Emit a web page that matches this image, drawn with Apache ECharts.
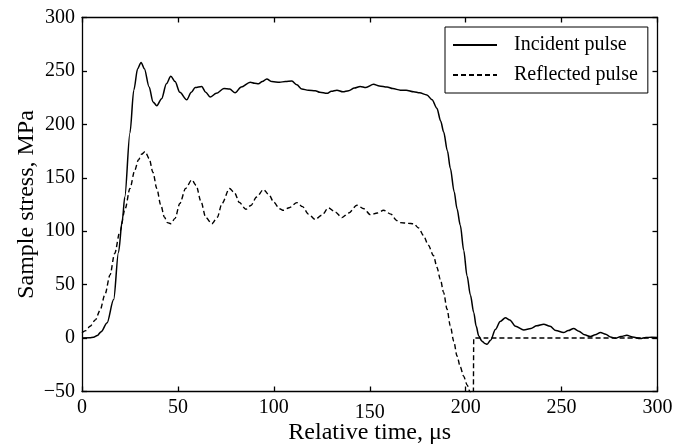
<!DOCTYPE html>
<html>
<head>
<meta charset="utf-8">
<script src="https://cdn.jsdelivr.net/npm/echarts@6/dist/echarts.min.js"></script>
<style>html,body{margin:0;padding:0;background:#fff;}#c{width:674px;height:447px;}</style>
</head>
<body>
<div id="c"></div>
<script>
const seriesNames = ['Incident pulse', 'Reflected pulse'];
const xTicks = [0, 50, 100, 150, 200, 250, 300];
const yTicks = [-50, 0, 50, 100, 150, 200, 250, 300];

const incidentT = [0,4,6,8,10,13,16.5,19,21,22.3,25,27,29,30.8,32.5,35,37,39,41.5,44,46.3,48.5,51,54.6,57,59,62.4,64.5,66.8,70,74,77,79.8,83,87.7,90,92,94,96.3,99,103,106,109.4,112,114.6,118,121.6,124,127.7,130,132.9,136,139,142,145,148,152,155,159,162,166,169,172.9,176,179.8,182.5,185,187,188.5,190.5,192,194,195.5,197.2,199,200.7,202.5,204.2,205.5,206.8,208.5,210,211.2,213,215.5,218,220.7,223,226,230.3,234,237,240.7,244,247,251,253.5,256.3,259,262,265,267.5,270.3,273,275.5,278,281,284,287,291,294,297,300];
const incidentV = [0,0.2,0.8,2.5,6,14,36,80,110,132,192,232,252,258,252,235,221,217.5,224,238,245,240,230,223,230,234.5,235.5,230,225.5,229,233.5,233,229.5,235,239.5,238.5,238,240,242.5,240,239.5,240,240.5,237,233,232,231.5,230,229,231,232,230.5,231.5,234,235.5,234.5,237.5,236,235,233.5,232,232,230.5,229.5,227.5,223,215,203,193,175,159,137,121,105.5,82,58.4,40,24,11,2,-3,-5,-5.8,-2,8,15.5,19,17,11,7.6,9,11.5,13,11,7,5.2,7,9,6.5,3,1.4,3,5.2,3.5,1,-0.2,1.5,2.6,1,-0.5,0.5,0.8,0.5];

const reflectedT = [0,2,4.2,7,9.4,12,14.6,17,19.8,22.5,25,27.5,29.4,31,32.9,35,37,39,41,43,44.5,46.3,48.5,51,54,57.2,59.5,62,64.5,67.7,70.5,73,76.9,79.5,82,85.4,88,91,94.6,97.5,100,103,105,108,112,115,118,121.6,125,128.5,132,135.5,139,143.3,147,150.3,154,157.2,161,164,166,170,172.9,175.5,178,180.5,183.3,185,186.8,188.5,190.3,192,193.8,195.5,197.2,198.9,200.8,202.4,203.2,204,204.2,210,300];
const reflectedV = [5,7,11,17,26,41,59,79,100,121,140,157,166.6,172,174.5,168,155,140,125,113,108,107,112,126,140,148,143,128,113,107,113,126,140,136,127,120.5,124,132,139,134,127,121,119.6,122,126.8,123,116,111,115,121.8,118,112.7,117,124.3,121,115.5,117,119.6,116,110,108,107.5,107,103,96,87,77,66.3,55,42.8,27,11.4,-3,-16.8,-27,-35.6,-44,-51,-56,-56,0,0,0];

const pair = (t, v) => t.map((x, i) => [x, v[i]]);
const FONT = 'Liberation Serif';

const chart = echarts.init(document.getElementById('c'), null, {renderer: 'canvas'});
const axisLine = {show: true, onZero: false, lineStyle: {color: '#000', width: 1.3}};
const tick = {show: true, inside: true, length: 5, lineStyle: {color: '#000', width: 1.3}};
chart.setOption({
  animation: false,
  backgroundColor: '#fff',
  grid: {left: 82, right: 16.5, top: 17.5, bottom: 55.5, containLabel: false, outerBoundsMode: 'none'},
  legend: {
    data: seriesNames,
    orient: 'vertical',
    left: 445, top: 27,
    itemWidth: 44, itemHeight: 14, itemGap: 10,
    padding: [8, 10, 8, 7],
    borderColor: '#000', borderWidth: 1, borderRadius: 0,
    backgroundColor: '#fff',
    itemStyle: {opacity: 0},
    textStyle: {fontFamily: FONT, fontSize: 20, color: '#000', padding: [0, 0, 0, 12]}
  },
  xAxis: [{
    type: 'value', min: 0, max: 300, interval: 50, position: 'bottom',
    name: 'Relative time, μs', nameLocation: 'middle', nameGap: 29, nameMoveOverlap: false,
    nameTextStyle: {fontFamily: FONT, fontSize: 24, color: '#000'},
    axisLine: axisLine, axisTick: tick, splitLine: {show: false},
    axisLabel: {fontFamily: FONT, fontSize: 20, color: '#000', margin: 6,
      formatter: v => (v === 150 ? '{low|150}' : String(v)),
      rich: {low: {fontFamily: FONT, fontSize: 20, color: '#000', padding: [5, 0, 0, 0]}}}
  }, {
    type: 'value', min: 0, max: 300, interval: 50, position: 'top',
    axisLine: axisLine, axisTick: tick, axisLabel: {show: false}, splitLine: {show: false}
  }],
  yAxis: [{
    type: 'value', min: -50, max: 300, interval: 50, position: 'left',
    name: 'Sample stress, MPa', nameLocation: 'middle', nameGap: 43, nameMoveOverlap: false,
    nameTextStyle: {fontFamily: FONT, fontSize: 24, color: '#000'},
    axisLine: axisLine, axisTick: tick, splitLine: {show: false},
    axisLabel: {fontFamily: FONT, fontSize: 20, color: '#000', margin: 7,
      formatter: v => (v < 0 ? '\u2212' + Math.abs(v) : String(v))}
  }, {
    type: 'value', min: -50, max: 300, interval: 50, position: 'right',
    axisLine: axisLine, axisTick: tick, axisLabel: {show: false}, splitLine: {show: false}
  }],
  series: [{
    name: seriesNames[0], type: 'line', data: pair(incidentT, incidentV),
    showSymbol: false, symbol: 'none', smooth: 0.3, smoothMonotone: 'x', clip: true,
    lineStyle: {color: '#000', width: 1.5, type: 'solid'}, itemStyle: {color: '#000'}
  }, {
    name: seriesNames[1], type: 'line', data: pair(reflectedT, reflectedV),
    showSymbol: false, symbol: 'none', smooth: 0.3, smoothMonotone: 'x', clip: true,
    lineStyle: {color: '#000', width: 1.4, type: [5, 3]}, itemStyle: {color: '#000'}
  }]
});
</script>
</body>
</html>
